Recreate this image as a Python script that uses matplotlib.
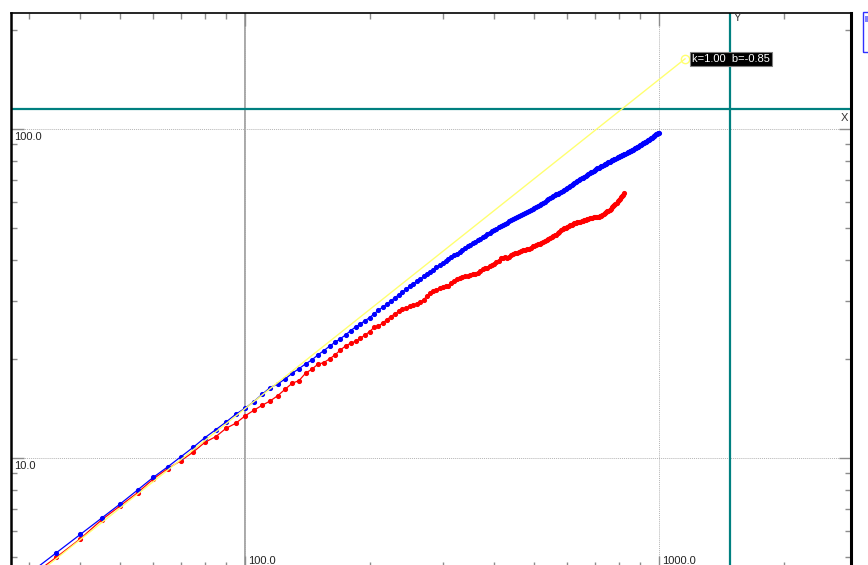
import matplotlib.pyplot as plt
from matplotlib.patches import Rectangle
from matplotlib.ticker import LogLocator, NullFormatter

plt.rcParams['font.family'] = ['Liberation Sans', 'DejaVu Sans']

# sample positions (x) and measured values
blue_x = [30, 35, 40, 45, 50, 55, 60, 65, 70, 75, 80, 85, 90, 95, 100, 105, 110, 115, 120, 125,
          130, 135, 140, 145, 150, 155, 160, 165, 170, 175, 180, 185, 190, 195, 200, 205, 210, 215, 220, 225,
          230, 235, 240, 245, 250, 255, 260, 265, 270, 275, 280, 285, 290, 295, 300, 305, 310, 315, 320, 325,
          330, 335, 340, 345, 350, 355, 360, 365, 370, 375, 380, 385, 390, 395, 400, 405, 410, 415, 420, 425,
          430, 435, 440, 445, 450, 455, 460, 465, 470, 475, 480, 485, 490, 495, 500, 505, 510, 515, 520, 525,
          530, 535, 540, 545, 550, 555, 560, 565, 570, 575, 580, 585, 590, 595, 600, 605, 610, 615, 620, 625,
          630, 635, 640, 645, 650, 655, 660, 665, 670, 675, 680, 685, 690, 695, 700, 705, 710, 715, 720, 725,
          730, 735, 740, 745, 750, 755, 760, 765, 770, 775, 780, 785, 790, 795, 800, 805, 810, 815, 820, 825,
          830, 835, 840, 845, 850, 855, 860, 865, 870, 875, 880, 885, 890, 895, 900, 905, 910, 915, 920, 925,
          930, 935, 940, 945, 950, 955, 960, 965, 970, 975, 980, 985, 990, 995, 1000]
blue_y = [4.44, 5.15, 5.86, 6.56, 7.26, 7.99, 8.73, 9.39, 10.09, 10.78, 11.53, 12.19, 12.86, 13.58, 14.16,
          14.83, 15.62, 16.36, 16.79, 17.39, 18.09, 18.68, 19.31, 19.86, 20.57, 21.19, 21.86, 22.47, 23.05,
          23.66, 24.38, 25.02, 25.55, 26.15, 26.70, 27.40, 28.11, 28.72, 29.37, 30.02, 30.66, 31.33, 31.97,
          32.61, 33.25, 33.85, 34.44, 35.03, 35.62, 36.20, 36.79, 37.37, 37.94, 38.52, 39.09, 39.64, 40.19,
          40.73, 41.27, 41.81, 42.35, 42.88, 43.40, 43.93, 44.45, 44.95, 45.45, 45.94, 46.43, 46.91, 47.39,
          47.87, 48.34, 48.81, 49.28, 49.73, 50.18, 50.63, 51.07, 51.51, 51.94, 52.37, 52.80, 53.22, 53.64,
          54.04, 54.45, 54.84, 55.23, 55.62, 56.01, 56.39, 56.76, 57.13, 57.50, 57.95, 58.40, 58.84, 59.28,
          59.72, 60.16, 60.59, 61.02, 61.45, 61.88, 62.32, 62.75, 63.19, 63.62, 64.06, 64.48, 64.91, 65.34,
          65.76, 66.18, 66.64, 67.10, 67.56, 68.01, 68.47, 68.92, 69.37, 69.82, 70.27, 70.72, 71.16, 71.60,
          72.03, 72.47, 72.90, 73.33, 73.76, 74.19, 74.62, 75.04, 75.42, 75.80, 76.18, 76.55, 76.92, 77.29,
          77.66, 78.03, 78.39, 78.75, 79.11, 79.47, 79.82, 80.17, 80.52, 80.87, 81.22, 81.56, 81.90, 82.24,
          82.57, 82.90, 83.22, 83.54, 83.86, 84.18, 84.49, 84.81, 85.12, 85.43, 85.80, 86.17, 86.54, 86.91,
          87.28, 87.65, 88.01, 88.38, 88.74, 89.10, 89.50, 89.91, 90.31, 90.71, 91.11, 91.51, 91.91, 92.31,
          92.70, 93.10, 93.54, 93.98, 94.43, 94.87, 95.31, 95.75, 96.19, 96.62, 97.06, 97.50]

red_x = [30, 35, 40, 45, 50, 55, 60, 65, 70, 75, 80, 85, 90, 95, 100, 105, 110, 115, 120, 125,
         130, 135, 140, 145, 150, 155, 160, 165, 170, 175, 180, 185, 190, 195, 200, 205, 210, 215, 220, 225,
         230, 235, 240, 245, 250, 255, 260, 265, 270, 275, 280, 285, 290, 295, 300, 305, 310, 315, 320, 325,
         330, 335, 340, 345, 350, 355, 360, 365, 370, 375, 380, 385, 390, 395, 400, 405, 410, 415, 420, 425,
         430, 435, 440, 445, 450, 455, 460, 465, 470, 475, 480, 485, 490, 495, 500, 505, 510, 515, 520, 525,
         530, 535, 540, 545, 550, 555, 560, 565, 570, 575, 580, 585, 590, 595, 600, 605, 610, 615, 620, 625,
         630, 635, 640, 645, 650, 655, 660, 665, 670, 675, 680, 685, 690, 695, 700, 705, 710, 715, 720, 725,
         730, 735, 740, 745, 750, 755, 760, 765, 770, 775, 780, 785, 790, 795, 800, 805, 810, 815, 820, 825]
red_y = [4.32, 4.99, 5.68, 6.48, 7.16, 7.84, 8.63, 9.28, 9.81, 10.43, 11.16, 11.61, 12.31, 12.75, 13.42,
         13.96, 14.46, 14.90, 15.47, 16.18, 16.87, 17.18, 18.09, 18.61, 19.27, 19.49, 20.00, 20.57, 21.29,
         21.90, 22.32, 22.63, 23.11, 23.66, 24.20, 24.96, 25.18, 25.7, 26.3, 26.9, 27.4, 27.9, 28.3, 28.6,
         28.9, 29.2, 29.4, 29.7, 30.3, 31.0, 31.7, 32.1, 32.5, 32.8, 33.0, 33.2, 33.4, 33.9, 34.5, 34.9,
         35.2, 35.4, 35.6, 35.8, 36.0, 36.1, 36.2, 36.5, 36.9, 37.4, 37.7, 37.9, 38.3, 38.7, 38.9, 39.3,
         39.8, 40.4, 40.6, 40.7, 40.6, 40.8, 41.4, 41.7, 41.9, 42.1, 42.4, 42.6, 42.8, 43.0, 43.2, 43.3,
         43.6, 44.0, 44.2, 44.4, 44.6, 44.8, 45.0, 45.2, 45.6, 46.0, 46.3, 46.6, 46.9, 47.2, 47.5, 47.7,
         48.2, 48.7, 49.2, 49.6, 49.9, 50.1, 50.3, 50.6, 50.9, 51.2, 51.4, 51.6, 51.8, 52.0, 52.1, 52.3,
         52.4, 52.5, 52.7, 52.9, 53.1, 53.3, 53.5, 53.6, 53.7, 53.8, 53.9, 54.0, 54.1, 54.1, 54.2, 54.4,
         54.7, 55.0, 55.4, 55.8, 56.1, 56.4, 56.8, 57.2, 57.7, 58.2, 58.7, 59.2, 59.6, 60.2, 60.8, 61.4,
         62.0, 62.5, 63.0, 63.7]

# fitted line  log10(y) = k*log10(x) + b
fit_k = 1.00
fit_b = -0.85
fit_x = [28, 1156]

cross_x = 1484
cross_y = 115

fig = plt.figure(figsize=(8.68, 5.65), dpi=100)
ax = fig.add_axes([11 / 868, -3 / 565, 840 / 868, 555 / 565])
ax.set_xscale("log")
ax.set_yscale("log")
ax.set_xlim(27.2, 2910)
ax.set_ylim(4.63, 225)

for axis in (ax.xaxis, ax.yaxis):
    axis.set_major_locator(LogLocator(base=10, numticks=10))
    axis.set_minor_locator(LogLocator(base=10, subs=range(2, 10), numticks=30))
    axis.set_major_formatter(NullFormatter())
    axis.set_minor_formatter(NullFormatter())

ax.tick_params(which="both", direction="in", top=True, right=True, bottom=True, left=True,
               color="#8c8c8c", width=1)
ax.tick_params(which="major", length=9)
ax.tick_params(which="minor", length=4.5)

ax.grid(True, which="major", color="#b4b4b4", linestyle=(0, (1, 1)), linewidth=0.7)
ax.axvline(100, color="#a0a0a0", lw=1.3, zorder=1)

ax.spines["left"].set_linewidth(1.8)
ax.spines["top"].set_linewidth(1.2)
ax.spines["right"].set_linewidth(2.2)

ax.plot(red_x, red_y, color="#ff0000", lw=0.9, marker="o", ms=2.7, zorder=3)
ax.plot(blue_x, blue_y, color="#0000ff", lw=0.9, marker="o", ms=2.7, zorder=3)

fit_y = [10 ** fit_b * x ** fit_k for x in fit_x]
ax.plot(fit_x, fit_y, color="#ffff70", lw=1, zorder=4)
ax.plot(fit_x[-1], fit_y[-1], "o", mfc="none", mec="#ffff70", ms=6, mew=1, zorder=4)
ax.annotate(f"k={fit_k:.2f}  b={fit_b:.2f}", xy=(fit_x[-1], fit_y[-1]), xytext=(5, 0),
            textcoords="offset points", ha="left", va="center", color="white", fontsize=8,
            bbox=dict(boxstyle="square,pad=0.2", facecolor="black", edgecolor="#808080", lw=0.8),
            zorder=6)

ax.axhline(cross_y, color="#008080", lw=1.6, zorder=2)
ax.axvline(cross_x, color="#008080", lw=1.6, zorder=2)
ax.annotate("X", xy=(1, cross_y), xycoords=ax.get_yaxis_transform(), xytext=(-2, -3),
            textcoords="offset points", ha="right", va="top", fontsize=8, color="#333333")
ax.annotate("Y", xy=(cross_x, 1), xycoords=ax.get_xaxis_transform(), xytext=(3, 0),
            textcoords="offset points", ha="left", va="top", fontsize=8, color="#333333")

for v in (10, 100):
    ax.annotate(f"{v:.1f}", xy=(0, v), xycoords=ax.get_yaxis_transform(), xytext=(2, -2),
                textcoords="offset points", ha="left", va="top", fontsize=8, color="#222222")
for v in (100, 1000):
    ax.annotate(f"{v:.1f}", xy=(v, 0), xycoords=ax.get_xaxis_transform(), xytext=(2, 5),
                textcoords="offset points", ha="left", va="center", fontsize=8, color="#222222")

# partly visible legend box on the right edge
fig.patches.append(Rectangle((863 / 868, 1 - 52 / 565), 10 / 868, 40 / 565, transform=fig.transFigure,
                             fill=False, edgecolor="#3030ff", lw=1))
fig.patches.append(Rectangle((865 / 868, 1 - 22 / 565), 4 / 868, 6 / 565, transform=fig.transFigure,
                             facecolor="#8080ff", edgecolor="none"))

fig.savefig("out.png", dpi=100)
